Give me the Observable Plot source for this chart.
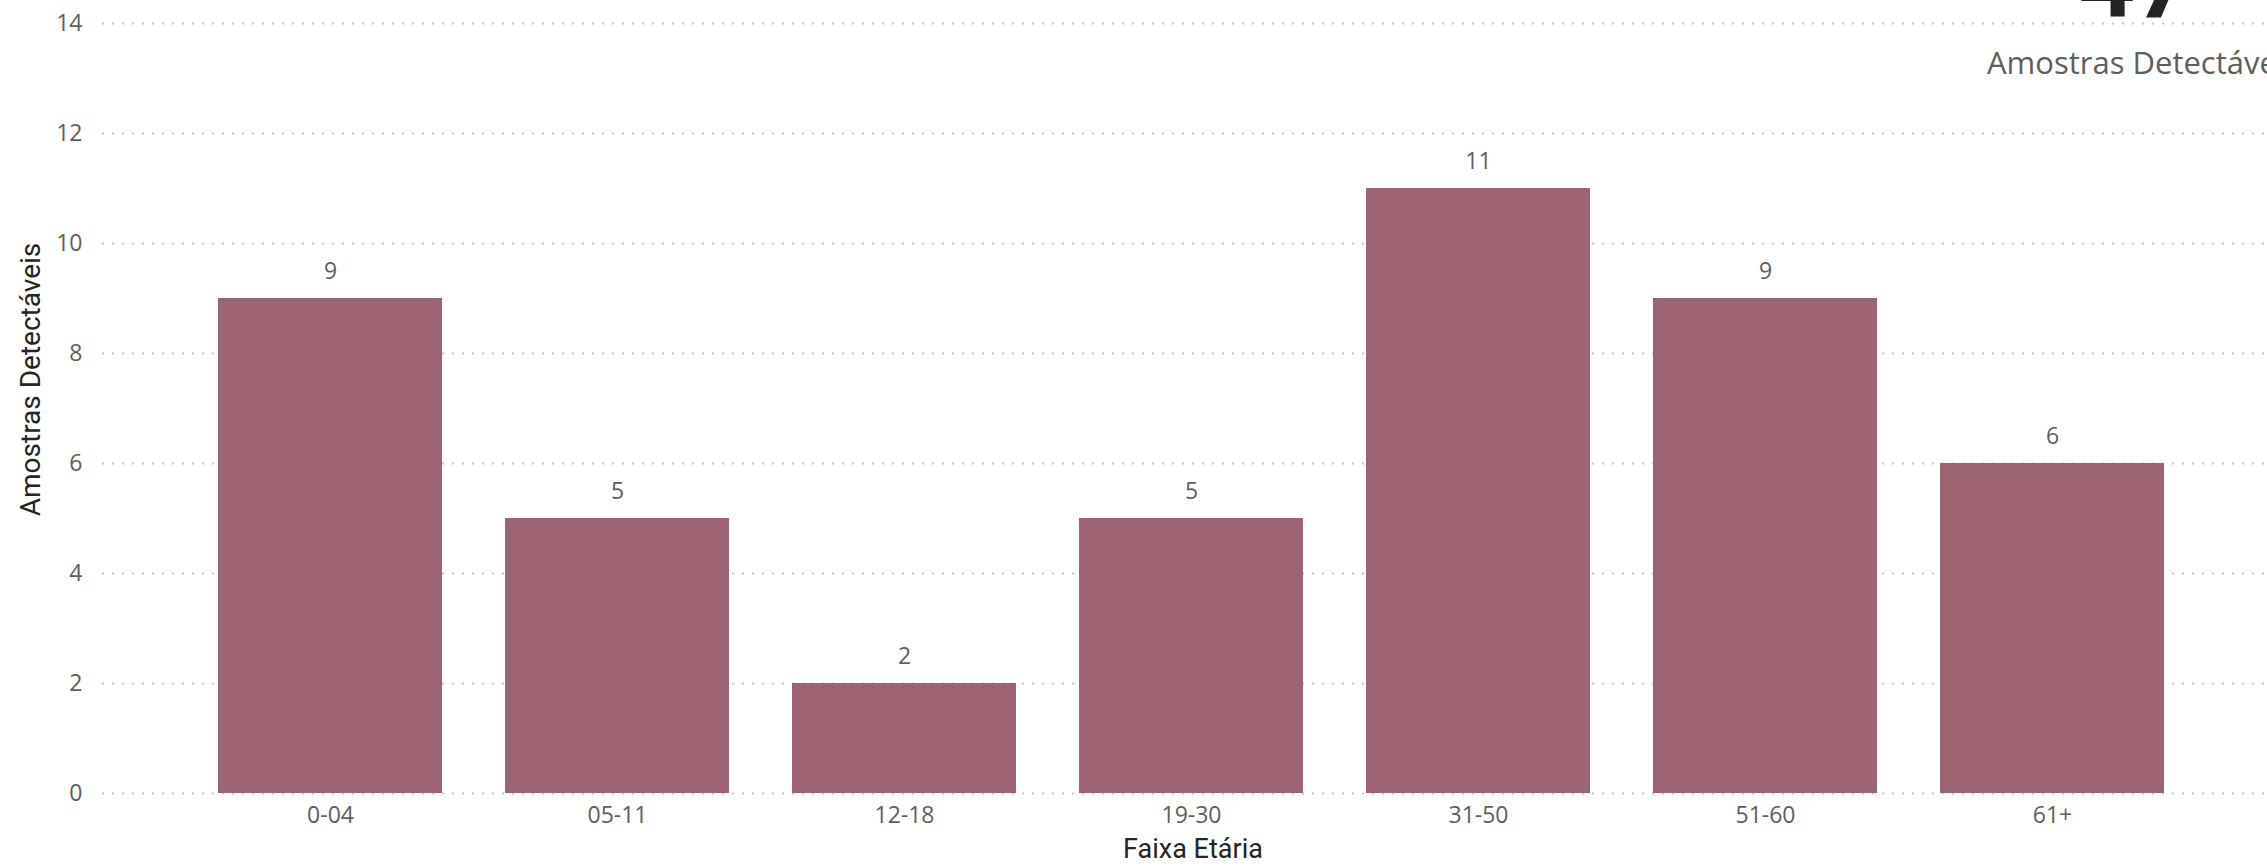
<!DOCTYPE html>
<html>
<head>
<meta charset="utf-8">
<script src="https://cdn.jsdelivr.net/npm/d3@7"></script>
<script src="https://cdn.jsdelivr.net/npm/@observablehq/plot@0.6"></script>
<style>
  html, body { margin: 0; padding: 0; background: #fff; overflow: hidden; width: 2267px; height: 866px; }
  #wrap { position: relative; width: 2267px; height: 866px; overflow: hidden; }
  #card-value { position: absolute; left: 2078px; top: -67px; font-family: "Roboto", "DejaVu Sans", sans-serif; font-weight: 700; font-size: 100px; line-height: 100px; color: #252423; white-space: nowrap; }
  #card-label { position: absolute; left: 1987px; top: 43px; font-family: "Open Sans", sans-serif; font-size: 31px; line-height: 38px; color: #605E5C; white-space: nowrap; }
</style>
</head>
<body>
<div id="wrap">
  <div id="chart"></div>
  <div id="card-value"></div>
  <div id="card-label"></div>
</div>
<script>
const categories = ["0-04", "05-11", "12-18", "19-30", "31-50", "51-60", "61+"];
const values = [9, 5, 2, 5, 11, 9, 6];
const yTicks = [0, 2, 4, 6, 8, 10, 12, 14];
const xTitle = "Faixa Etária";
const yTitle = "Amostras Detectáveis";
const cardLabel = "Amostras Detectáveis";

const data = categories.map((c, i) => ({cat: c, val: values[i]}));
const total = d3.sum(values);

const W = 2267, H = 866;
const mL = 102, mR = 0, mT = 23, mB = 73;
const tickFont = "'Open Sans', sans-serif";
const titleFont = "'Roboto', sans-serif";

const chart = Plot.plot({
  width: W,
  height: H,
  marginLeft: mL,
  marginRight: mR,
  marginTop: mT,
  marginBottom: mB,
  style: { background: "#fff", fontFamily: tickFont, fontSize: "23px", color: "#605E5C" },
  x: { domain: categories, range: [186.5, 2195.5], paddingInner: 0.22, paddingOuter: 0.11, label: null },
  y: { domain: [0, 14], label: null },
  marks: [
    Plot.ruleY(yTicks, { stroke: "#c8c6c4", strokeWidth: 2, strokeDasharray: "2 8" }),
    Plot.barY(data, { x: "cat", y: "val", fill: "#9c6372" }),
    Plot.text(data, { x: "cat", y: "val", text: d => String(d.val), lineAnchor: "bottom", dy: -20, fill: "#605E5C", fontSize: 23 }),
    Plot.axisX({ tickSize: 0, tickPadding: 13, fontSize: 23, fill: "#605E5C" }),
    Plot.axisY({ ticks: yTicks, tickSize: 0, tickPadding: 20, fontSize: 23, fill: "#605E5C", tickFormat: d => String(d) }),
    Plot.text([xTitle], { frameAnchor: "bottom", dy: 56, dx: 8, lineAnchor: "middle", textAnchor: "middle", fontSize: 27, fill: "#252423", fontFamily: titleFont }),
    Plot.text([yTitle], { frameAnchor: "left", dx: -71, dy: -29, rotate: -90, lineAnchor: "middle", textAnchor: "middle", fontSize: 28, fill: "#252423", fontFamily: titleFont })
  ]
});
document.getElementById("chart").appendChild(chart);
document.getElementById("card-value").textContent = String(total);
document.getElementById("card-label").textContent = cardLabel;
</script>
</body>
</html>
